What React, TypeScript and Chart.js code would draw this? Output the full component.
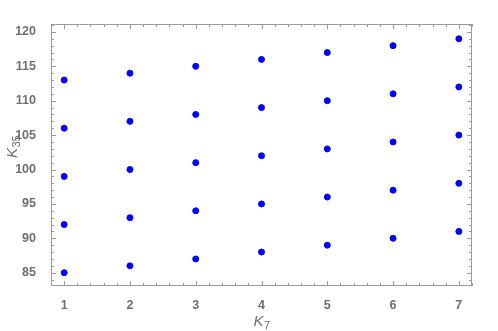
import React, { useEffect, useRef } from "react";
import { Chart, registerables } from "chart.js";

Chart.register(...registerables);

const xValues = [1, 2, 3, 4, 5, 6, 7];
const rowStarts = [85, 92, 99, 106, 113];
const seriesPoints = rowStarts.flatMap((s) => xValues.map((x, i) => ({ x, y: s + i })));
const xTicks = [1, 2, 3, 4, 5, 6, 7];
const yTicks = [85, 90, 95, 100, 105, 110, 115, 120];
const xTitle = { main: "K", sub: "7" };
const yTitle = { main: "K", sub: "35" };

const axisColor = "#9a9a9a";
const labelColor = "#6e6e6e";

const framePlugin = {
  id: "frame",
  afterDraw(chart: any) {
    const { ctx, chartArea: a, scales } = chart;
    const xs = scales.x;
    const ys = scales.y;
    ctx.save();
    ctx.strokeStyle = axisColor;
    ctx.lineWidth = 1;
    ctx.strokeRect(a.left + 0.5, a.top + 0.5, a.right - a.left - 1, a.bottom - a.top - 1);
    ctx.beginPath();
    for (let v = 0.8; v <= 7.2001; v += 0.2) {
      const major = Math.abs(v - Math.round(v)) < 1e-6;
      const len = major ? 5 : 3;
      const px = Math.round(xs.getPixelForValue(v)) + 0.5;
      ctx.moveTo(px, a.bottom);
      ctx.lineTo(px, a.bottom - len);
      ctx.moveTo(px, a.top);
      ctx.lineTo(px, a.top + len);
    }
    for (let v = 84; v <= 121; v += 1) {
      const major = v % 5 === 0;
      const len = major ? 5 : 3;
      const py = Math.round(ys.getPixelForValue(v)) + 0.5;
      ctx.moveTo(a.left, py);
      ctx.lineTo(a.left + len, py);
      ctx.moveTo(a.right, py);
      ctx.lineTo(a.right - len, py);
    }
    ctx.stroke();

    ctx.fillStyle = labelColor;
    const mainFont = "italic 15px 'Liberation Sans', Arial, sans-serif";
    const subFont = "11px 'Liberation Sans', Arial, sans-serif";
    const drawTitle = (t: { main: string; sub: string }, cx: number, baseY: number, rot: number) => {
      ctx.save();
      ctx.translate(cx, baseY);
      ctx.rotate(rot);
      ctx.font = mainFont;
      const mw = ctx.measureText(t.main).width;
      ctx.font = subFont;
      const sw = ctx.measureText(t.sub).width;
      const total = mw + sw;
      ctx.textBaseline = "alphabetic";
      ctx.textAlign = "left";
      ctx.font = mainFont;
      ctx.fillText(t.main, -total / 2, 0);
      ctx.font = subFont;
      ctx.fillText(t.sub, -total / 2 + mw + 0.5, 3);
      ctx.restore();
    };
    drawTitle(xTitle, (a.left + a.right) / 2, 326, 0);
    drawTitle(yTitle, 17, 147, -Math.PI / 2);
    ctx.restore();
  },
};

export default function App() {
  const ref = useRef<HTMLCanvasElement>(null);
  useEffect(() => {
    document.body.style.margin = "0";
    const chart = new Chart(ref.current!, {
      type: "scatter",
      data: {
        datasets: [
          {
            data: seriesPoints,
            backgroundColor: "#0000ff",
            borderColor: "#0000ff",
            pointRadius: 3,
            pointHoverRadius: 3,
          },
        ],
      },
      options: {
        responsive: false,
        animation: false,
        layout: { padding: { left: 0, right: 26, top: 24, bottom: 0 } },
        plugins: { legend: { display: false }, tooltip: { enabled: false } },
        scales: {
          x: {
            type: "linear",
            min: 0.8,
            max: 7.2,
            grid: { display: false },
            border: { display: false },
            afterBuildTicks: (s: any) => {
              s.ticks = xTicks.map((v) => ({ value: v }));
            },
            afterFit: (s: any) => {
              s.height = 45;
            },
            ticks: {
              padding: 4,
              color: labelColor,
              font: { family: "'Liberation Sans', Arial, sans-serif", size: 12.5, weight: "bold" },
              maxRotation: 0,
            },
          },
          y: {
            type: "linear",
            min: 83.07,
            max: 121.15,
            grid: { display: false },
            border: { display: false },
            afterBuildTicks: (s: any) => {
              s.ticks = yTicks.map((v) => ({ value: v }));
            },
            afterFit: (s: any) => {
              s.width = 51;
            },
            ticks: {
              padding: 7,
              color: labelColor,
              font: { family: "'Liberation Sans', Arial, sans-serif", size: 12.5, weight: "bold" },
            },
          },
        },
      },
      plugins: [framePlugin],
    });
    return () => chart.destroy();
  }, []);
  return <canvas ref={ref} width={498} height={331} style={{ display: "block" }} />;
}
